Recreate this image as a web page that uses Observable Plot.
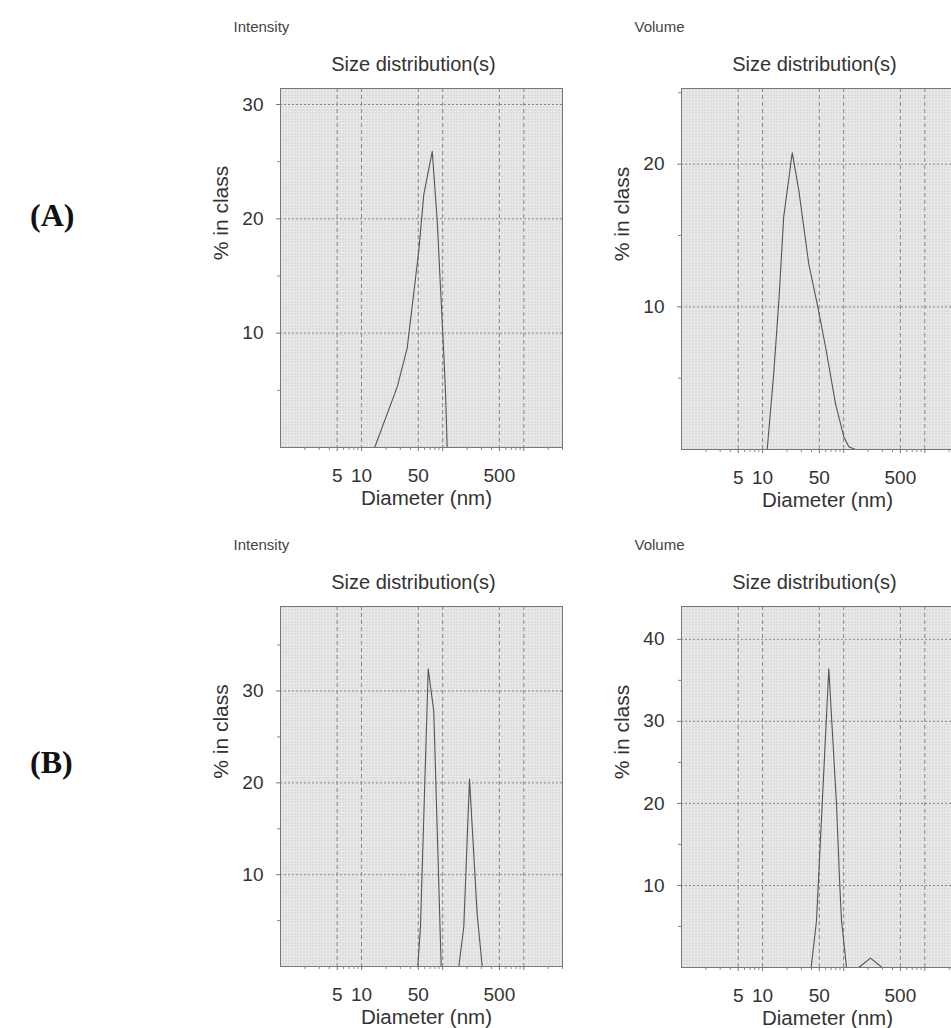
<!DOCTYPE html>
<html>
<head>
<meta charset="utf-8">
<script src="https://cdn.jsdelivr.net/npm/d3@7"></script>
<script src="https://cdn.jsdelivr.net/npm/@observablehq/plot@0.6"></script>
<style>
html, body { margin: 0; padding: 0; background: #fff; }
#page { position: relative; width: 951px; height: 1028px; overflow: hidden; background: #fff; }
.plabel { position: absolute; font-family: "Liberation Serif", "Times New Roman", serif; font-weight: bold; font-size: 32px; line-height: 1; color: #111; }
</style>
</head>
<body>
<div id="page">
  <svg width="0" height="0" style="position:absolute">
    <defs>
      <pattern id="tex" width="3" height="3" patternUnits="userSpaceOnUse">
        <rect width="3" height="3" fill="#e9e9e9"></rect>
        <rect width="1" height="1" fill="#b5b5b5"></rect>
      </pattern>
    </defs>
  </svg>
  <div class="plabel" style="left:30px; top:199px;">(A)</div>
  <div class="plabel" style="left:30px; top:746px;">(B)</div>
</div>
<script>
// ---------- data ----------
const xDomain = [1, 3000];
const xGridValues = [5, 10, 50, 100, 500, 1000];
const xTickLabels = [5, 10, 50, 500];
const xMinorTicks = [2, 3, 4, 6, 7, 8, 9, 20, 30, 40, 60, 70, 80, 90, 200, 300, 400, 600, 700, 800, 900, 2000, 3000];

// (A) Intensity
const diamA_int = [14.5, 27.5, 36.5, 50.7, 58.4, 74.3, 85.5, 100.3, 108.3, 113.6];
const pctA_int  = [0, 5.3, 8.7, 17.2, 22.1, 25.9, 19.9, 9.9, 4.9, 0];
const yTicksA_int = [10, 20, 30];
const yMinorA_int = [5, 15, 25];

// (A) Volume
const diamA_vol = [11.4, 13.7, 15.9, 18.2, 23.2, 27.9, 37.1, 47.1, 59.7, 79.3, 100.3, 115.6, 139.8];
const pctA_vol  = [0, 5.3, 10.5, 16.3, 20.8, 18.2, 13.0, 10.2, 7.2, 3.2, 0.9, 0.2, 0];
const yTicksA_vol = [10, 20];
const yMinorA_vol = [5, 15, 25];

// (B) Intensity (two peaks)
const diamB_int1 = [49.3, 53.2, 66.3, 77.6, 95.8];
const pctB_int1  = [0, 4.3, 32.4, 27.8, 0];
const diamB_int2 = [158, 182, 214, 266, 307];
const pctB_int2  = [0, 4.3, 20.4, 5.7, 0];
const yTicksB_int = [10, 20, 30];
const yMinorB_int = [5, 15, 25, 35];

// (B) Volume (main peak + small bump)
const diamB_vol1 = [39.7, 46.2, 54.3, 65.5, 81.5, 89.5, 94.0, 108.3];
const pctB_vol1  = [0, 5.7, 19.9, 36.4, 19.9, 10.0, 5.7, 0];
const diamB_vol2 = [153.5, 214, 298];
const pctB_vol2  = [0, 1.15, 0];
const yTicksB_vol = [10, 20, 30, 40];
const yMinorB_vol = [5, 15, 25, 35];

// ---------- drawing ----------
const FONT = "'Liberation Sans', Arial, Helvetica, sans-serif";
const page = document.getElementById("page");

function toRows(d, p) { return d.map((v, i) => ({d: v, p: p[i]})); }

function addPanel(cfg) {
  const mL = 100, mR = 20, mT = 90, mB = 80;
  const W = (cfg.x1 - cfg.x0) + mL + mR;
  const H = (cfg.y1 - cfg.y0) + mT + mB;
  const lines = cfg.series.map(([d, p]) =>
    Plot.line(toRows(d, p), {x: "d", y: "p", stroke: "#555", strokeWidth: 1.1}));
  const svg = Plot.plot({
    width: W, height: H,
    marginLeft: mL, marginRight: mR, marginTop: mT, marginBottom: mB,
    style: {fontFamily: FONT, color: "#333", background: "transparent", maxWidth: "none", overflow: "visible"},
    x: {type: "log", domain: xDomain, axis: null},
    y: {domain: [0, cfg.yMax], axis: null},
    marks: [
      Plot.frame({fill: "url(#tex)", stroke: "none"}),
      Plot.ruleX(xGridValues, {stroke: "#858585", strokeDasharray: "4,3", strokeWidth: 1}),
      Plot.ruleY(cfg.yTicks, {stroke: "#858585", strokeDasharray: "2,2", strokeWidth: 1}),
      ...lines,
      Plot.frame({stroke: "#777", strokeWidth: 1}),
      Plot.axisX({ticks: xMinorTicks, tickSize: 3, tickFormat: () => "", label: null, stroke: "#888"}),
      Plot.axisX({ticks: xGridValues, tickSize: 4, tickFormat: () => "", label: null, stroke: "#777"}),
      Plot.text(xTickLabels, {x: d => d, text: d => String(d), frameAnchor: "bottom", lineAnchor: "top", textAnchor: "middle", dy: 20.5, fontSize: 19, fill: "#333"}),
      Plot.axisY({ticks: cfg.yMinor, tickSize: 3, tickFormat: () => "", label: null, stroke: "#888"}),
      Plot.axisY({ticks: cfg.yTicks, tickSize: 4, tickPadding: 13, fontSize: 19, label: null, stroke: "#777", tickFormat: d => String(d)}),
      Plot.text(["Diameter (nm)"], {frameAnchor: "bottom", lineAnchor: "middle", textAnchor: "middle", dx: 5, dy: 51, fontSize: 20.5, fill: "#333"}),
      Plot.text(["% in class"], {frameAnchor: "left", lineAnchor: "middle", textAnchor: "middle", rotate: -90, dx: -59, dy: -55, fontSize: 21, fill: "#333"}),
      Plot.text(["Size distribution(s)"], {frameAnchor: "top", lineAnchor: "middle", textAnchor: "middle", dx: -8, dy: -24.4, fontSize: 20, fill: "#333"}),
      Plot.text([cfg.kind], {frameAnchor: "top-left", lineAnchor: "middle", textAnchor: "start", dx: -47, dy: -61.8, fontSize: 15, fill: "#444"})
    ]
  });
  svg.style.position = "absolute";
  svg.style.left = (cfg.x0 - mL) + "px";
  svg.style.top = (cfg.y0 - mT) + "px";
  page.appendChild(svg);
}

addPanel({kind: "Intensity", x0: 280, x1: 562, y0: 88, y1: 447, yMax: 31.4,
  yTicks: yTicksA_int, yMinor: yMinorA_int, series: [[diamA_int, pctA_int]]});
addPanel({kind: "Volume", x0: 681, x1: 963, y0: 88, y1: 449, yMax: 25.3,
  yTicks: yTicksA_vol, yMinor: yMinorA_vol, series: [[diamA_vol, pctA_vol]]});
addPanel({kind: "Intensity", x0: 280, x1: 562, y0: 606, y1: 966, yMax: 39.2,
  yTicks: yTicksB_int, yMinor: yMinorB_int, series: [[diamB_int1, pctB_int1], [diamB_int2, pctB_int2]]});
addPanel({kind: "Volume", x0: 681, x1: 963, y0: 606, y1: 967, yMax: 44,
  yTicks: yTicksB_vol, yMinor: yMinorB_vol, series: [[diamB_vol1, pctB_vol1], [diamB_vol2, pctB_vol2]]});
</script>
</body>
</html>
